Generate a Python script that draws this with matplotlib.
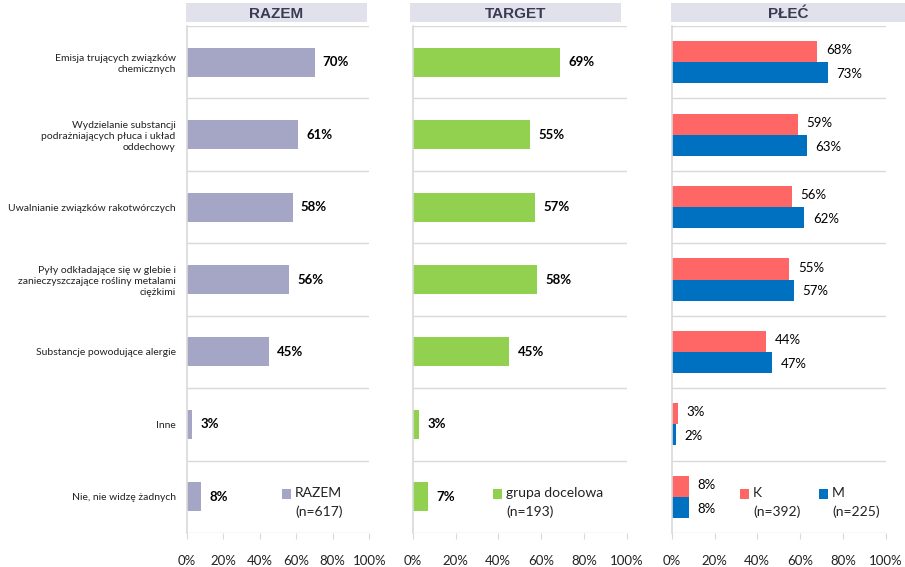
import matplotlib
matplotlib.use("Agg")
import matplotlib.pyplot as plt
from matplotlib.patches import Rectangle

plt.rcParams['font.family'] = ['Lato', 'DejaVu Sans']

# -----------------------------
# Data
# -----------------------------
categories = [
    "Emisja trujących związków\nchemicznych",
    "Wydzielanie substancji\npodrażniających płuca i układ\noddechowy",
    "Uwalnianie związków rakotwórczych",
    "Pyły odkładające się w glebie i\nzanieczyszczające rośliny metalami\nciężkimi",
    "Substancje powodujące alergie",
    "Inne",
    "Nie, nie widzę żadnych",
]
razem = [70, 61, 58, 56, 45, 3, 8]
target = [69, 55, 57, 58, 45, 3, 7]
kobiety = [68, 59, 56, 55, 44, 3, 8]
mezczyzni = [73, 63, 62, 57, 47, 2, 8]

panel_titles = ["RAZEM", "TARGET", "PŁEĆ"]
xticks = [0, 20, 40, 60, 80, 100]

C_RAZEM = "#A5A5C5"
C_TARGET = "#92D050"
C_K = "#FF6666"
C_M = "#0070C0"
GRID = "#D9D9D9"

W, H = 905, 567
fig = plt.figure(figsize=(W / 100, H / 100), dpi=100)


def px_axes(x0, x1, y0=26, y1=533):
    return fig.add_axes([x0 / W, 1 - y1 / H, (x1 - x0) / W, (y1 - y0) / H])


def style_axes(ax):
    n = len(categories)
    ax.set_xlim(0, 100)
    ax.set_ylim(n - 0.5, -0.5)
    ax.set_xticks(xticks)
    ax.set_xticklabels([f"{t}%" for t in xticks], fontsize=9.5, color="#222222")
    ax.tick_params(axis="x", length=4, width=0.8, color=GRID, pad=12)
    ax.set_yticks([i - 0.5 for i in range(n + 1)], minor=True)
    ax.grid(axis="y", which="minor", color=GRID, linewidth=1)
    ax.tick_params(axis="y", which="minor", length=0)
    ax.tick_params(axis="y", which="major", length=0, pad=8)
    for s in ["top", "right", "bottom"]:
        ax.spines[s].set_visible(False)
    ax.spines["left"].set_color(GRID)
    ax.spines["left"].set_linewidth(1.2)
    ax.set_axisbelow(True)


def title_box(x0, x1, text):
    fig.patches.append(Rectangle((x0 / W, 1 - 22 / H), (x1 - x0) / W, 19 / H,
                                 transform=fig.transFigure, facecolor="#E1E1EB",
                                 edgecolor="none"))
    fig.text((x0 + x1) / 2 / W, 1 - 13.5 / H, text, ha="center", va="center",
             fontsize=11, fontweight="bold", color="#3A3A55",
             family=["Liberation Sans", "DejaVu Sans"])


def legend_item(ax, x, color, line1, line2):
    aw = ax.get_position().width * W
    ax.add_patch(Rectangle((x, 0.068), 9 / aw, 0.018,
                           transform=ax.transAxes, facecolor=color, edgecolor="none",
                           clip_on=False))
    ax.text(x + 13 / aw, 0.078, line1, transform=ax.transAxes,
            fontsize=10, va="center", ha="left", color="#222222")
    ax.text(x + 13 / aw, 0.042, line2, transform=ax.transAxes,
            fontsize=10, va="center", ha="left", color="#222222")


ypos = list(range(len(categories)))

# Panel 1: RAZEM
ax1 = px_axes(186.7, 369.3)
ax1.barh(ypos, razem, height=0.4, color=C_RAZEM)
style_axes(ax1)
ax1.set_yticks(ypos)
ax1.set_yticklabels(categories, fontsize=7.5, color="#222222", linespacing=1.3)
for y, v in zip(ypos, razem):
    ax1.text(v + 4.5, y, f"{v}%", va="center", ha="left", fontsize=9.5, fontweight="bold")
legend_item(ax1, 0.522, C_RAZEM, "RAZEM", "(n=617)")
title_box(186, 367, panel_titles[0])

# Panel 2: TARGET
ax2 = px_axes(412.7, 626.7)
ax2.barh(ypos, target, height=0.4, color=C_TARGET)
style_axes(ax2)
ax2.set_yticks(ypos)
ax2.set_yticklabels([])
for y, v in zip(ypos, target):
    ax2.text(v + 4, y, f"{v}%", va="center", ha="left", fontsize=9.5, fontweight="bold")
legend_item(ax2, 0.375, C_TARGET, "grupa docelowa", "(n=193)")
title_box(410, 621, panel_titles[1])

# Panel 3: PŁEĆ
ax3 = px_axes(671.7, 885.7)
bh = 0.29
ax3.barh([y - bh / 2 for y in ypos], kobiety, height=bh, color=C_K)
ax3.barh([y + bh / 2 for y in ypos], mezczyzni, height=bh, color=C_M)
style_axes(ax3)
ax3.set_yticks(ypos)
ax3.set_yticklabels([])
for y, v in zip(ypos, kobiety):
    ax3.text(v + 4, y - bh / 2 - 0.02, f"{v}%", va="center", ha="left", fontsize=9.5)
for y, v in zip(ypos, mezczyzni):
    ax3.text(v + 4, y + bh / 2 + 0.02, f"{v}%", va="center", ha="left", fontsize=9.5)
legend_item(ax3, 0.319, C_K, "K", "(n=392)")
legend_item(ax3, 0.688, C_M, "M", "(n=225)")
title_box(671, 905, panel_titles[2])

fig.savefig("out.png", dpi=100)
